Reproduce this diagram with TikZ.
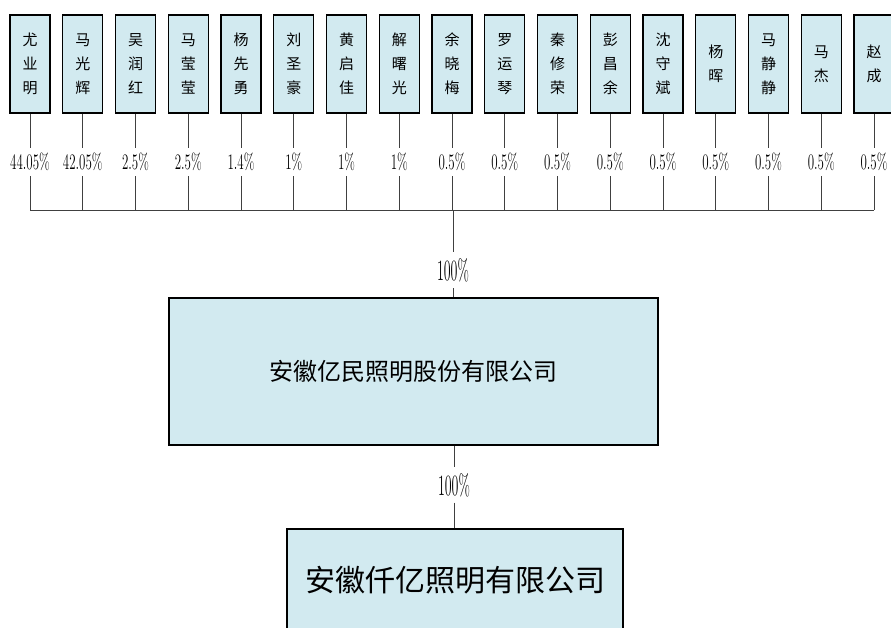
\documentclass[tikz,border=0pt]{standalone}
\usepackage{fontspec}
\newfontfamily\cjk{Noto Sans CJK SC}
\usetikzlibrary{positioning}
\definecolor{boxblue}{RGB}{210,234,240}
\newcommand{\tallpct}[2]{\scalebox{1}[#1]{#2\%}}

\begin{document}
\begin{tikzpicture}[x=1pt,y=-1pt,
    holder/.style={draw,line width=1.3pt,fill=boxblue,minimum width=40pt,minimum height=98pt,inner sep=0pt,align=center,font=\cjk\fontsize{15}{24}\selectfont},
    company/.style={draw,line width=1.3pt,fill=boxblue,inner sep=0pt},
    share/.style={inner sep=0pt,minimum height=28pt,font=\fontsize{13}{15}\selectfont},
    link/.style={draw=black!75,line width=0.7pt}]
  \useasboundingbox (0,0) rectangle (891,628);
  % shareholders
  \foreach \name/\pct [count=\i] in {{尤\\业\\明}/44.05,{马\\光\\辉}/42.05,{吴\\润\\红}/2.5,{马\\莹\\莹}/2.5,{杨\\先\\勇}/1.4,{刘\\圣\\豪}/1,{黄\\启\\佳}/1,{解\\曙\\光}/1,{余\\晓\\梅}/0.5,{罗\\运\\琴}/0.5,{秦\\修\\荣}/0.5,{彭\\昌\\余}/0.5,{沈\\守\\斌}/0.5,{杨\\晖}/0.5,{马\\静\\静}/0.5,{马\\杰}/0.5,{赵\\成}/0.5}{
    \node[holder] (n\i) at ({30+52.75*(\i-1)},64) {\name};
    \node[share] (p\i) at ({30+52.75*(\i-1)},162) {\tallpct{1.7}{\pct}};
    \coordinate (b\i) at ({30+52.75*(\i-1)},210);
    \path[link] (n\i.south) -- (p\i.north) (p\i.south) -- (b\i);
  }
  \path[link] (b1) -- (b17);
  \coordinate (bus) at (453,210);
  % companies
  \node[company,minimum width=489pt,minimum height=147pt,font=\cjk\fontsize{24}{28}\selectfont] (parent) at (413.5,371.5) {安徽亿民照明股份有限公司};
  \node[company,minimum width=336pt,minimum height=102pt,font=\cjk\fontsize{30}{36}\selectfont] (sub) at (455,580) {安徽仟亿照明有限公司};
  \node[share,minimum height=36pt,font=\fontsize{14}{16}\selectfont] (top) at (453,270) {\tallpct{2.1}{100}};
  \node[share,minimum height=35pt,font=\fontsize{14}{16}\selectfont] (low) at (454,485) {\tallpct{2.1}{100}};
  \path[link] (bus) -- (top.north) (top.south) -- (top.south |- parent.north)
              (low.north |- parent.south) -- (low.north) (low.south) -- (low.south |- sub.north);
\end{tikzpicture}
\end{document}
